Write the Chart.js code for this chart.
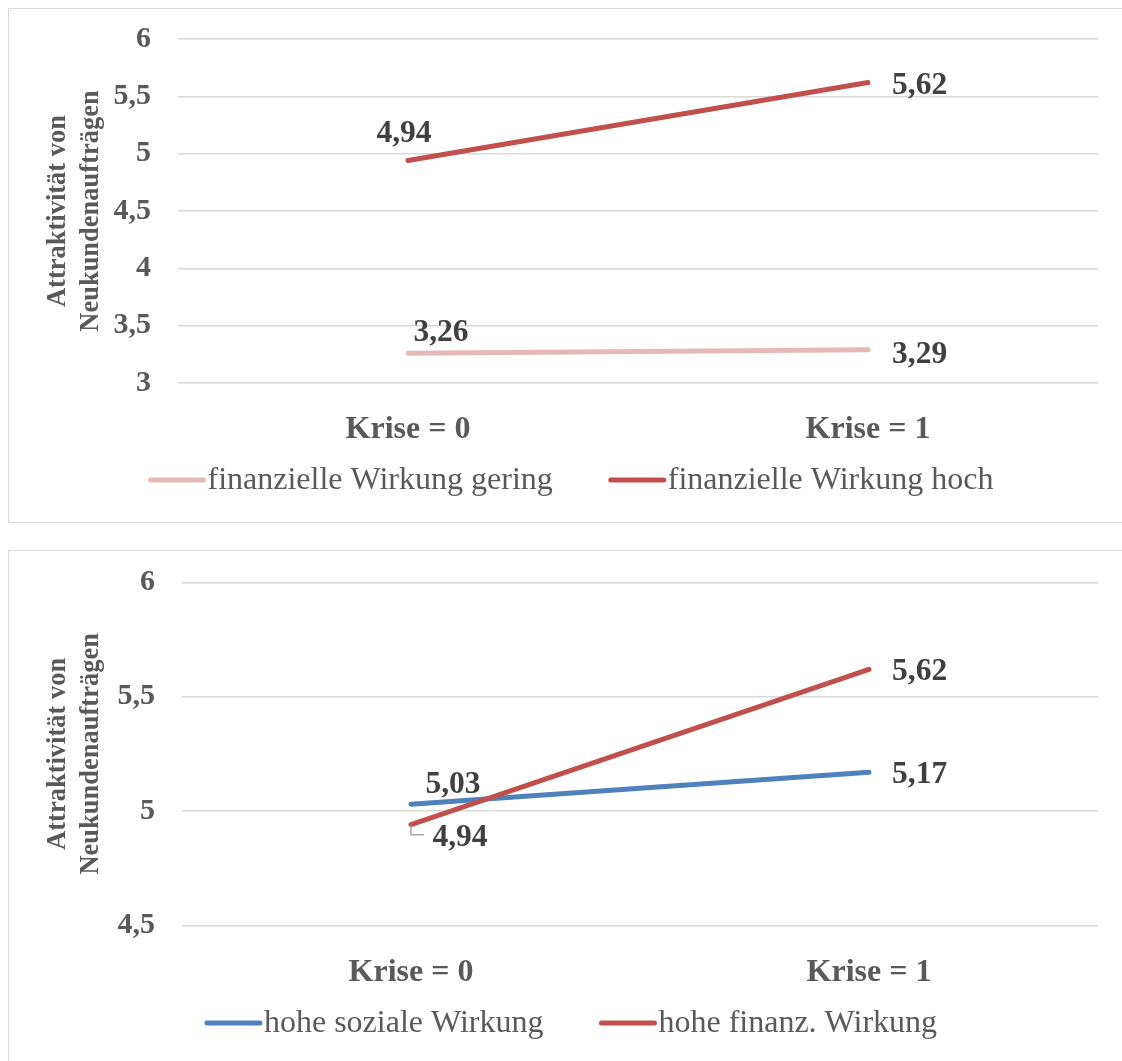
<!DOCTYPE html>
<html lang="de">
<head>
<meta charset="utf-8">
<title>Attraktivität von Neukundenaufträgen</title>
<script src="https://cdn.jsdelivr.net/npm/chart.js@4.4.1/dist/chart.umd.min.js"></script>
<style>
  html, body { margin: 0; padding: 0; background: #fff; overflow: hidden; width: 1122px; height: 1061px; }
  .frame { position: absolute; border: 1.5px solid #d9d9d9; box-sizing: border-box; }
  #frame1 { left: 8px; top: 8px; width: 1200px; height: 515px; }
  #frame2 { left: 8px; top: 550px; width: 1200px; height: 600px; }
  canvas { position: absolute; left: 0; }
  #c1 { top: 0; }
  #c2 { top: 536px; }
</style>
</head>
<body>
<div class="frame" id="frame1"></div>
<div class="frame" id="frame2"></div>
<canvas id="c1" width="1122" height="536"></canvas>
<canvas id="c2" width="1122" height="525"></canvas>
<script>
// ---- data ----
const categories = ['Krise = 0', 'Krise = 1'];
const yTitle = ['Attraktivität von', 'Neukundenaufträgen'];

// upper chart
const finGeringLabel = 'finanzielle Wirkung gering';
const finGering = [3.26, 3.29];
const finHochLabel = 'finanzielle Wirkung hoch';
const finHoch = [4.94, 5.62];
const upperTicks = [3, 3.5, 4, 4.5, 5, 5.5, 6];

// lower chart
const sozHochLabel = 'hohe soziale Wirkung';
const sozHoch = [5.03, 5.17];
const finanzHochLabel = 'hohe finanz. Wirkung';
const finanzHoch = [4.94, 5.62];
const lowerTicks = [4.5, 5, 5.5, 6];

// ---- styling ----
const SERIF = '"Liberation Serif", "Times New Roman", serif';
const GREY = '#595959';
const DARK = '#404040';
const RED = '#c0504d';
const PINK = '#e6b9b8';
const BLUE = '#4f81bd';

Chart.defaults.font.family = SERIF;
Chart.defaults.color = GREY;

const fmt = v => String(v).replace('.', ',');
const fmt2 = v => v.toFixed(2).replace('.', ',');

// value labels next to the line ends
const pointLabels = {
  id: 'pointLabels',
  afterDatasetsDraw(chart, args, opts) {
    const ctx = chart.ctx;
    ctx.save();
    ctx.font = `bold ${opts.size}px ${SERIF}`;
    ctx.textBaseline = 'middle';
    chart.data.datasets.forEach((ds, i) => {
      const meta = chart.getDatasetMeta(i);
      const place = opts.placement[i];
      meta.data.forEach((pt, j) => {
        const p = place[j];
        if (p.leader) {
          ctx.strokeStyle = '#a6a6a6';
          ctx.lineWidth = 1.5;
          ctx.beginPath();
          ctx.moveTo(pt.x, pt.y + p.leader[0]);
          ctx.lineTo(pt.x, pt.y + p.leader[1]);
          ctx.lineTo(pt.x + p.leader[2], pt.y + p.leader[1]);
          ctx.stroke();
        }
        ctx.fillStyle = opts.color;
        ctx.textAlign = p.align;
        ctx.fillText(fmt2(ds.data[j]), pt.x + p.dx, pt.y + p.dy);
      });
    });
    ctx.restore();
  }
};

// legend with a line sample per series
const lineLegend = {
  id: 'lineLegend',
  afterDraw(chart, args, opts) {
    const ctx = chart.ctx;
    ctx.save();
    ctx.font = `${opts.size}px ${SERIF}`;
    const items = chart.data.datasets.map(ds => ({ ds, w: ctx.measureText(ds.label).width }));
    const total = items.reduce((s, it) => s + opts.lineLen + opts.textGap + it.w, 0)
      + opts.itemGap * (items.length - 1);
    let x = opts.centerX - total / 2;
    items.forEach(it => {
      ctx.strokeStyle = it.ds.borderColor;
      ctx.lineWidth = it.ds.borderWidth;
      ctx.lineCap = 'round';
      ctx.beginPath();
      ctx.moveTo(x, opts.y);
      ctx.lineTo(x + opts.lineLen, opts.y);
      ctx.stroke();
      x += opts.lineLen + opts.textGap;
      ctx.fillStyle = opts.color;
      ctx.textAlign = 'left';
      ctx.textBaseline = 'middle';
      ctx.fillText(it.ds.label, x, opts.y + 1);
      x += it.w + opts.itemGap;
    });
    ctx.restore();
  }
};

function lineSet(label, data, color, order) {
  return {
    label, data,
    borderColor: color, backgroundColor: color,
    borderWidth: 5, borderCapStyle: 'round', borderJoinStyle: 'round',
    pointRadius: 0, pointHoverRadius: 0, tension: 0, fill: false, order
  };
}

function makeChart(canvasId, datasets, ticks, layout, placement, legendY) {
  return new Chart(document.getElementById(canvasId), {
    type: 'line',
    data: { labels: categories, datasets },
    options: {
      responsive: false,
      animation: false,
      devicePixelRatio: 1,
      layout: { padding: layout.padding },
      scales: {
        x: {
          type: 'category',
          offset: true,
          grid: { display: false },
          border: { display: false },
          ticks: { padding: 20, color: GREY, font: { size: 32, weight: 'bold' } },
          afterFit(s) { s.height = 70; s.paddingLeft = 0; s.paddingRight = 0; }
        },
        y: {
          min: ticks[0],
          max: ticks[ticks.length - 1],
          border: { display: false },
          grid: { color: '#d9d9d9', lineWidth: 1.5, drawTicks: false },
          ticks: {
            stepSize: 0.5, padding: 27, color: GREY,
            font: { size: 30, weight: 'bold' },
            callback: v => fmt(v)
          },
          title: {
            display: true, text: yTitle, color: GREY,
            font: { size: 26.5, weight: 'bold', lineHeight: 33 / 26.5 },
            padding: { top: 12, bottom: 0 }
          },
          afterFit(s) { s.width = layout.yWidth; s.paddingTop = 0; s.paddingBottom = 0; }
        }
      },
      plugins: {
        legend: { display: false },
        tooltip: { enabled: false },
        pointLabels: { size: 31.5, color: DARK, placement },
        lineLegend: { size: 32, color: GREY, y: legendY, centerX: 572, lineLen: 53, textGap: 4, itemGap: 58 }
      }
    },
    plugins: [pointLabels, lineLegend]
  });
}

// upper chart: financial impact low vs. high
makeChart('c1',
  [lineSet(finGeringLabel, finGering, PINK, 1), lineSet(finHochLabel, finHoch, RED, 0)],
  upperTicks,
  { padding: { left: 30, right: 24, top: 39, bottom: 83 }, yWidth: 148 },
  [
    [{ dx: 33, dy: -20, align: 'center' }, { dx: 24, dy: 5, align: 'left' }],
    [{ dx: -4, dy: -27, align: 'center' }, { dx: 24, dy: 3, align: 'left' }]
  ],
  480
);

// lower chart: high social vs. high financial impact
makeChart('c2',
  [lineSet(sozHochLabel, sozHoch, BLUE, 1), lineSet(finanzHochLabel, finanzHoch, RED, 0)],
  lowerTicks,
  { padding: { left: 30, right: 24, top: 46.4, bottom: 65.7 }, yWidth: 152 },
  [
    [{ dx: 42, dy: -19, align: 'center' }, { dx: 23, dy: 3, align: 'left' }],
    [{ dx: 49, dy: 13, align: 'center', leader: [1, 10, 13] }, { dx: 23, dy: 3, align: 'left' }]
  ],
  487
);
</script>
</body>
</html>
